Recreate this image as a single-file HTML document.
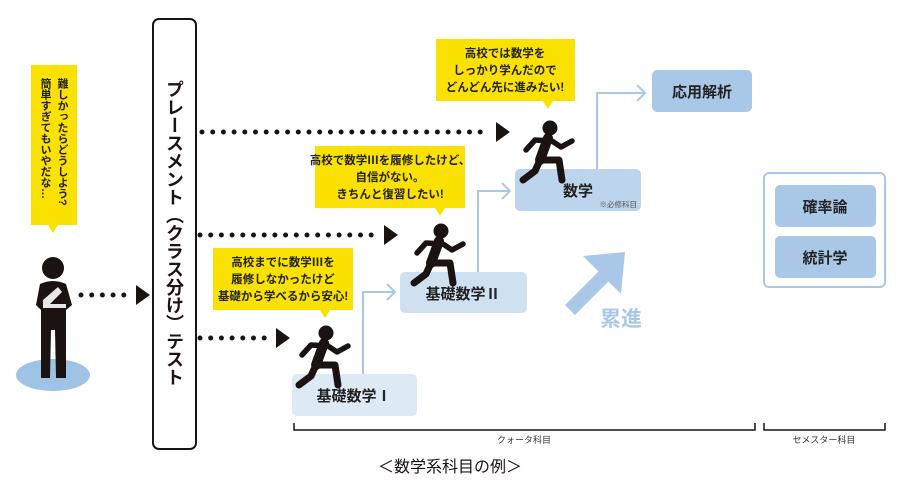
<!DOCTYPE html>
<html><head><meta charset="utf-8"><style>
body{margin:0;background:#fff;width:900px;height:486px;overflow:hidden;font-family:"Liberation Sans","Noto Sans CJK JP",sans-serif;}
</style></head><body>
<svg width="900" height="486" viewBox="0 0 900 486" xmlns="http://www.w3.org/2000/svg" font-family="'Liberation Sans','Noto Sans CJK JP',sans-serif">
<defs>
<g id="run">
<circle cx="0" cy="0" r="7.5" fill="#1a1311"/>
<g stroke="#1a1311" stroke-linecap="round" stroke-linejoin="round" fill="none">
<line x1="-2" y1="10" x2="-10" y2="32" stroke-width="10"/>
<polyline points="-24,22 -15,12 2,13 11,19 22,13" stroke-width="5.5"/>
<polyline points="-10,32 -15,43 -27,52" stroke-width="7"/>
<polyline points="-10,32 9,32 12,52" stroke-width="7"/>
</g>
</g>
</defs>

<!-- left bubble -->
<rect x="31" y="65" width="46" height="160" fill="#fbe100"/>
<polygon points="48,225 58,225 53,233" fill="#fbe100"/>
<text font-size="11" font-weight="bold" fill="#222" style="writing-mode:vertical-rl" x="62" y="78">難しかったらどうしよう?</text>
<text font-size="11" font-weight="bold" fill="#222" style="writing-mode:vertical-rl" x="45" y="78">簡単すぎてもいやだな…</text>

<!-- person -->
<ellipse cx="53" cy="375" rx="37" ry="16" fill="#9fc3e4"/>
<circle cx="53" cy="268" r="11" fill="#1a1311"/>
<path d="M40,284 Q53,278 66,284 L72,305 L66,310 L66,378 L56,378 L55,330 L51,330 L50,378 L41,378 L41,310 L36,305 Z" fill="#1a1311"/>
<path d="M43,300 L58,287 L62,292 L50,304 L66,304 L66,308 L43,308 Z" fill="#fff" opacity="0.9"/>

<!-- dotted arrows -->
<g fill="#1a1311">
<line x1="81" y1="295" x2="132" y2="295" stroke="#1a1311" stroke-width="5" stroke-dasharray="0 10.7" stroke-linecap="round"/>
<polygon points="136,285 150,295 136,305"/>
<line x1="202" y1="132" x2="490" y2="132" stroke="#1a1311" stroke-width="5" stroke-dasharray="0 10.7" stroke-linecap="round"/>
<polygon points="496,122 510,132 496,142"/>
<line x1="200" y1="235" x2="378" y2="235" stroke="#1a1311" stroke-width="5" stroke-dasharray="0 10.7" stroke-linecap="round"/>
<polygon points="384,225 398,235 384,245"/>
<line x1="200" y1="338" x2="270" y2="338" stroke="#1a1311" stroke-width="5" stroke-dasharray="0 10.7" stroke-linecap="round"/>
<polygon points="276,328 290,338 276,348"/>
</g>

<!-- test box -->
<rect x="153" y="19" width="43" height="430" rx="6" fill="#fff" stroke="#1a1311" stroke-width="2"/>
<text font-size="18" font-weight="bold" fill="#1a1311" style="writing-mode:vertical-rl" x="174" y="80">プレースメント（クラス分け）テスト</text>

<!-- bubbles -->
<rect x="213" y="248" width="140" height="62" fill="#fbe100"/>
<polygon points="320,310 330,310 325,318" fill="#fbe100"/>
<g font-size="11.5" font-weight="bold" fill="#222" text-anchor="middle">
<text x="283" y="266">高校までに数学Ⅲを</text>
<text x="283" y="283">履修しなかったけど</text>
<text x="283" y="300">基礎から学べるから安心!</text>
</g>
<rect x="315" y="146" width="150" height="62" fill="#fbe100"/>
<polygon points="435,208 445,208 440,216" fill="#fbe100"/>
<g font-size="11.5" font-weight="bold" fill="#222" text-anchor="middle">
<text x="390" y="164">高校で数学Ⅲを履修したけど、</text>
<text x="390" y="181">自信がない。</text>
<text x="390" y="198">きちんと復習したい!</text>
</g>
<rect x="436" y="39" width="139" height="62" fill="#fbe100"/>
<polygon points="543,101 553,101 548,109" fill="#fbe100"/>
<g font-size="11.5" font-weight="bold" fill="#222" text-anchor="middle">
<text x="505" y="57">高校では数学を</text>
<text x="505" y="74">しっかり学んだので</text>
<text x="505" y="91">どんどん先に進みたい!</text>
</g>

<!-- connectors -->
<g stroke="#a9c8e8" stroke-width="2" fill="none">
<polyline points="363,374 363,292 395,292"/>
<polyline points="387,284 395,292 387,300"/>
<polyline points="478,272 478,191 510,191"/>
<polyline points="502,183 510,191 502,199"/>
<polyline points="597,169 597,93 645,93"/>
<polyline points="637,85 645,93 637,101"/>
</g>

<!-- boxes -->
<rect x="292" y="374" width="125" height="42" rx="5" fill="#dde9f5"/>
<text x="354" y="401" font-size="15" font-weight="bold" fill="#222" text-anchor="middle">基礎数学Ⅰ</text>
<rect x="400" y="272" width="127" height="41" rx="5" fill="#cfe0f1"/>
<text x="463" y="299" font-size="15" font-weight="bold" fill="#222" text-anchor="middle">基礎数学Ⅱ</text>
<rect x="515" y="169" width="126" height="42" rx="5" fill="#bcd4ec"/>
<text x="578" y="196" font-size="15" font-weight="bold" fill="#222" text-anchor="middle">数学</text>
<text x="637" y="207" font-size="7.5" fill="#555" text-anchor="end">※必修科目</text>
<rect x="652" y="70" width="100" height="42" rx="5" fill="#a9c8e8"/>
<text x="702" y="97" font-size="15" font-weight="bold" fill="#222" text-anchor="middle">応用解析</text>

<!-- runners -->
<use href="#run" x="326" y="333"/>
<use href="#run" x="441" y="231"/>
<use href="#run" x="550" y="128"/>

<!-- big arrow -->
<line x1="570" y1="310" x2="614" y2="266" stroke="#a9c8e8" stroke-width="14"/>
<polygon points="583,256 625,252 621,294" fill="#a9c8e8"/>
<text x="600" y="326" font-size="21" font-weight="bold" fill="#a9c8e8">累進</text>

<!-- semester -->
<rect x="764" y="173" width="121" height="114" rx="5" fill="#fff" stroke="#a9c8e8" stroke-width="2"/>
<rect x="775" y="185" width="101" height="42" rx="5" fill="#a9c8e8"/>
<text x="825" y="212" font-size="15" font-weight="bold" fill="#222" text-anchor="middle">確率論</text>
<rect x="775" y="236" width="101" height="42" rx="5" fill="#a9c8e8"/>
<text x="825" y="263" font-size="15" font-weight="bold" fill="#222" text-anchor="middle">統計学</text>

<!-- brackets -->
<g stroke="#1a1311" stroke-width="1.5" fill="none">
<polyline points="294,423 294,430 755,430 755,423"/>
<polyline points="764,423 764,430 885,430 885,423"/>
</g>
<text x="524" y="443" font-size="9" fill="#333" text-anchor="middle">クォータ科目</text>
<text x="824" y="443" font-size="9" fill="#333" text-anchor="middle">セメスター科目</text>
<text x="450" y="472" font-size="16" fill="#1a1311" text-anchor="middle">＜数学系科目の例＞</text>
</svg>
</body></html>
